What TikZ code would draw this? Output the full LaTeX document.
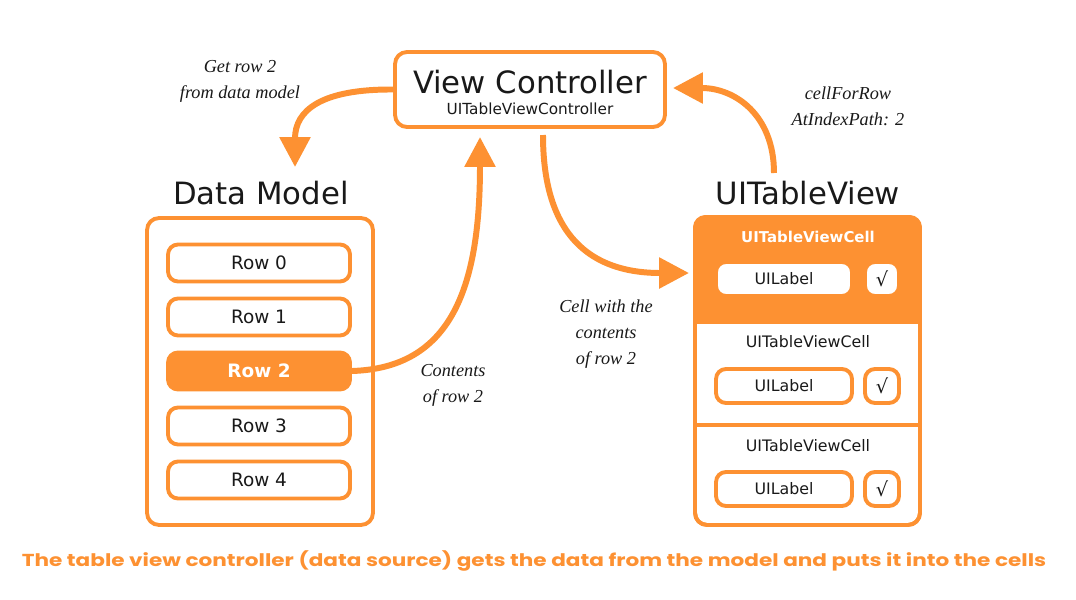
\documentclass[tikz,border=0pt]{standalone}
\usepackage{fontspec}
\setmainfont{DejaVu Sans}
\newfontfamily\notefont{Liberation Serif}
\newfontfamily\capfont{Poppins}
\usetikzlibrary{arrows.meta}
\definecolor{tvorange}{RGB}{253,145,50}
\definecolor{ink}{RGB}{25,25,25}
\tikzset{x=0.02cm, y=-0.02cm,
  box/.style={draw=tvorange, line width=2.2pt, rounded corners=0.24cm, inner sep=0pt},
  row/.style={box, rounded corners=0.2cm, fill=white, minimum width=3.64cm, minimum height=0.74cm, text=ink, font=\fontsize{10.5}{12}\selectfont},
  hotrow/.style={row, fill=tvorange, text=white, font=\fontsize{10.5}{12}\selectfont\bfseries},
  lbl/.style={box, rounded corners=0.2cm, fill=white, minimum width=2.72cm, minimum height=0.68cm, text=ink, font=\fontsize{9}{11}\selectfont},
  tick/.style={lbl, minimum width=0.68cm, font=\fontsize{11}{12}\selectfont},
  celltitle/.style={text=ink, font=\fontsize{9}{11}\selectfont},
  title/.style={text=ink, font=\fontsize{17.5}{20}\selectfont},
  note/.style={align=center, text=ink, font=\notefont\itshape\fontsize{10.4}{14.7}\selectfont},
  flow/.style={draw=tvorange, line width=3.4pt, -{Triangle[length=0.6cm, width=0.6cm]}}
}

\begin{document}
\begin{tikzpicture}
	\useasboundingbox[fill=white] (0,0) rectangle (1076,599);

	% view controller
	\node[box, minimum width=5.4cm, minimum height=1.5cm] (vc) at (530,89.5) {};
	\node[title] (vctitle) at (530,82) {View Controller};
	\node[text=ink, font=\fontsize{8.7}{10}\selectfont] (vcsub) at (530,109) {UITableViewController};

	% data model
	\node[title] (dmtitle) at (261,193) {Data Model};
	\node[box, minimum width=4.52cm, minimum height=6.14cm] (dm) at (260,371.5) {};
	\node[row] (row0) at (259,263) {Row 0};
	\node[row] (row1) at (259,317) {Row 1};
	\node[hotrow] (row2) at (259,371) {Row 2};
	\node[row] (row3) at (259,426) {Row 3};
	\node[row] (row4) at (259,480) {Row 4};

	% table view
	\node[title] (tvtitle) at (808,193) {UITableView};
	\node[box, minimum width=4.5cm, minimum height=6.16cm] (tv) at (807.5,371) {};
	\coordinate (sep1) at (0,322);
	\coordinate (sep2) at (0,425);
	\begin{scope}
		\clip (tv.north west) rectangle (tv.east |- sep1);
		\fill[tvorange, rounded corners=0.24cm] (tv.south west) rectangle (tv.north east);
	\end{scope}
	\draw[draw=tvorange, line width=2.2pt] (tv.west |- sep1) -- (tv.east |- sep1);
	\draw[draw=tvorange, line width=2.2pt] (tv.west |- sep2) -- (tv.east |- sep2);
	\node[box, minimum width=4.5cm, minimum height=6.16cm] at (tv) {};

	\node[text=white, font=\fontsize{8.5}{10}\selectfont\bfseries] (cell0) at (808,237) {UITableViewCell};
	\node[lbl] (lab0) at (784,279) {UILabel};
	\node[tick] (chk0) at (882,279) {√};
	\node[celltitle] (cell1) at (808,342) {UITableViewCell};
	\node[lbl] (lab1) at (784,386) {UILabel};
	\node[tick] (chk1) at (882,386) {√};
	\node[celltitle] (cell2) at (808,446) {UITableViewCell};
	\node[lbl] (lab2) at (784,489) {UILabel};
	\node[tick] (chk2) at (882,489) {√};

	% arrows
	\coordinate (gettip) at (295,167);
	\coordinate (contip) at (480,137);
	\coordinate (cellstart) at (543,135);
	\coordinate (celltip) at (689,273);
	\coordinate (idxstart) at (774,173);
	\coordinate (idxtip) at (673,88);
	\draw[flow] (vc.west) .. controls (322,89) and (295,110) .. (gettip);
	\draw[flow] (row2.east) .. controls (450,368) and (480,290) .. (contip);
	\draw[flow] (cellstart) .. controls (543,235) and (590,273) .. (celltip);
	\draw[flow] (idxstart) .. controls (774,115) and (735,88) .. (idxtip);

	\node[note] (getnote) at (240,81) {Get row 2\\from data model};
	\node[note] (connote) at (453,385) {Contents\\of row 2};
	\node[note] (cellnote) at (606,334) {Cell with the\\contents\\of row 2};
	\node[note] (idxnote) at (848,106) {cellForRow\\AtIndexPath: 2};

	\node[text=tvorange, inner sep=0pt] (caption) at (534,561)
		{\resizebox{583pt}{9pt}{\capfont\bfseries The table view controller (data source) gets the data from the model and puts it into the cells}};
\end{tikzpicture}
\end{document}
